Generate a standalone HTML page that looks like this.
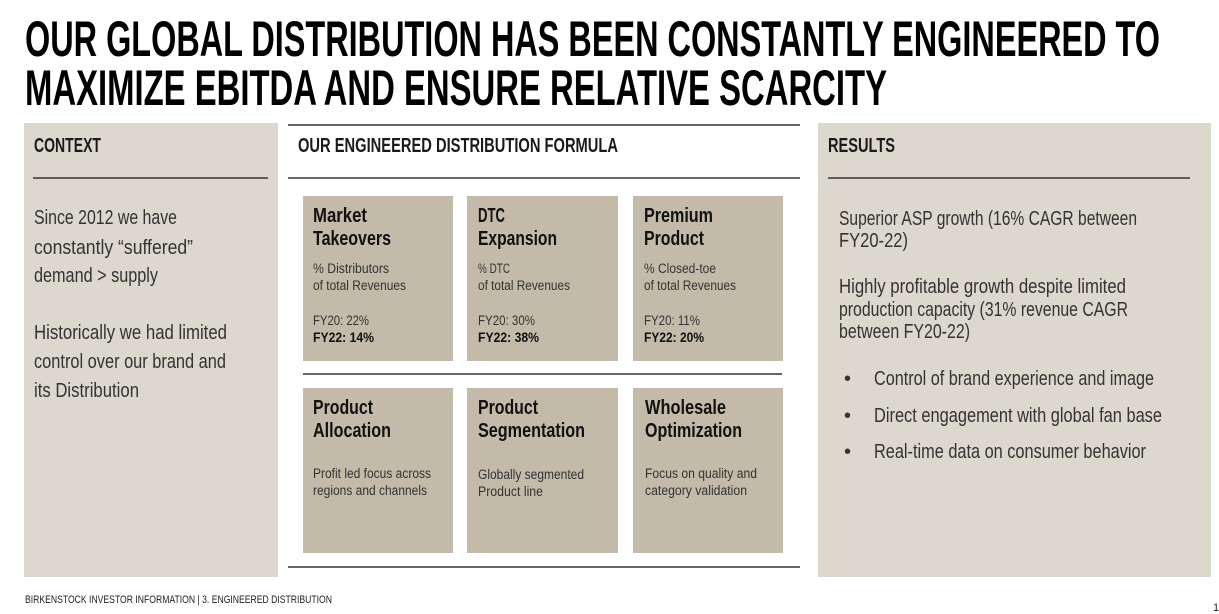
<!DOCTYPE html>
<html><head><meta charset="utf-8"><style>
html,body{margin:0;padding:0;background:#fff;width:1219px;height:614px;overflow:hidden}
svg text{font-family:"Liberation Sans Narrow","Liberation Sans",sans-serif}
</style></head><body>
<svg width="1219" height="614" viewBox="0 0 1219 614" xmlns="http://www.w3.org/2000/svg">
<rect width="1219" height="614" fill="#fff"/>
<g font-weight="bold" font-size="50" fill="#000">
<text x="25" y="56" textLength="1135" lengthAdjust="spacingAndGlyphs">OUR GLOBAL DISTRIBUTION HAS BEEN CONSTANTLY ENGINEERED TO</text>
<text x="25" y="105" textLength="862" lengthAdjust="spacingAndGlyphs">MAXIMIZE EBITDA AND ENSURE RELATIVE SCARCITY</text>
</g>
<rect x="24" y="123" width="254" height="454" fill="#dcd8ce"/>
<rect x="818" y="123" width="393" height="454" fill="#dcd8ce"/>
<g font-weight="bold" font-size="20" fill="#1a1a1a">
<text x="34" y="152" textLength="67" lengthAdjust="spacingAndGlyphs">CONTEXT</text>
<text x="298" y="152" textLength="320" lengthAdjust="spacingAndGlyphs">OUR ENGINEERED DISTRIBUTION FORMULA</text>
<text x="828" y="152" textLength="67" lengthAdjust="spacingAndGlyphs">RESULTS</text>
</g>
<g stroke="#333" stroke-width="1.5">
<line x1="33" y1="178" x2="268" y2="178"/>
<line x1="288" y1="125" x2="800" y2="125"/>
<line x1="288" y1="178" x2="800" y2="178"/>
<line x1="303" y1="374" x2="782" y2="374"/>
<line x1="288" y1="567" x2="800" y2="567"/>
<line x1="828" y1="178" x2="1190" y2="178"/>
</g>
<g font-size="20" fill="#333">
<text x="34" y="224" textLength="143" lengthAdjust="spacingAndGlyphs">Since 2012 we have</text>
<text x="34" y="254" textLength="159" lengthAdjust="spacingAndGlyphs">constantly “suffered”</text>
<text x="34" y="282" textLength="124" lengthAdjust="spacingAndGlyphs">demand &gt; supply</text>
<text x="34" y="339" textLength="193" lengthAdjust="spacingAndGlyphs">Historically we had limited</text>
<text x="34" y="368" textLength="192" lengthAdjust="spacingAndGlyphs">control over our brand and</text>
<text x="34" y="397" textLength="105" lengthAdjust="spacingAndGlyphs">its Distribution</text>
</g>
<g font-size="20" fill="#333">
<text x="839" y="225" textLength="298" lengthAdjust="spacingAndGlyphs">Superior ASP growth (16% CAGR between</text>
<text x="839" y="247" textLength="69" lengthAdjust="spacingAndGlyphs">FY20-22)</text>
<text x="839" y="293" textLength="287" lengthAdjust="spacingAndGlyphs">Highly profitable growth despite limited</text>
<text x="839" y="316" textLength="289" lengthAdjust="spacingAndGlyphs">production capacity (31% revenue CAGR</text>
<text x="839" y="338" textLength="131" lengthAdjust="spacingAndGlyphs">between FY20-22)</text>
<text x="844" y="385">•</text><text x="874" y="385" textLength="280" lengthAdjust="spacingAndGlyphs">Control of brand experience and image</text>
<text x="844" y="422">•</text><text x="874" y="422" textLength="288" lengthAdjust="spacingAndGlyphs">Direct engagement with global fan base</text>
<text x="844" y="458">•</text><text x="874" y="458" textLength="272" lengthAdjust="spacingAndGlyphs">Real-time data on consumer behavior</text>
</g>
<g fill="#c3baa9">
<rect x="303" y="196" width="150" height="165"/>
<rect x="467" y="196" width="151" height="165"/>
<rect x="633" y="196" width="150" height="165"/>
<rect x="303" y="388" width="150" height="165"/>
<rect x="467" y="388" width="151" height="165"/>
<rect x="633" y="388" width="150" height="165"/>
</g>
<g font-weight="bold" font-size="20" fill="#111" lengthAdjust="spacingAndGlyphs">
<text x="313" y="222" textLength="54" lengthAdjust="spacingAndGlyphs">Market</text><text x="313" y="245" textLength="78" lengthAdjust="spacingAndGlyphs">Takeovers</text>
<text x="478" y="222" textLength="27" lengthAdjust="spacingAndGlyphs">DTC</text><text x="478" y="245" textLength="79" lengthAdjust="spacingAndGlyphs">Expansion</text>
<text x="644" y="222" textLength="69" lengthAdjust="spacingAndGlyphs">Premium</text><text x="644" y="245" textLength="60" lengthAdjust="spacingAndGlyphs">Product</text>
<text x="313" y="414" textLength="60" lengthAdjust="spacingAndGlyphs">Product</text><text x="313" y="437" textLength="78" lengthAdjust="spacingAndGlyphs">Allocation</text>
<text x="478" y="414" textLength="60" lengthAdjust="spacingAndGlyphs">Product</text><text x="478" y="437" textLength="107" lengthAdjust="spacingAndGlyphs">Segmentation</text>
<text x="645" y="414" textLength="81" lengthAdjust="spacingAndGlyphs">Wholesale</text><text x="645" y="437" textLength="97" lengthAdjust="spacingAndGlyphs">Optimization</text>
</g>
<g font-size="13.5" fill="#333">
<text x="313" y="273" textLength="76" lengthAdjust="spacingAndGlyphs">% Distributors</text><text x="313" y="290" textLength="93" lengthAdjust="spacingAndGlyphs">of total Revenues</text>
<text x="313" y="325" textLength="56" lengthAdjust="spacingAndGlyphs">FY20: 22%</text><text x="313" y="342" font-weight="bold" fill="#111" textLength="61" lengthAdjust="spacingAndGlyphs">FY22: 14%</text>
<text x="478" y="273" textLength="32" lengthAdjust="spacingAndGlyphs">% DTC</text><text x="478" y="290" textLength="92" lengthAdjust="spacingAndGlyphs">of total Revenues</text>
<text x="478" y="325" textLength="57" lengthAdjust="spacingAndGlyphs">FY20: 30%</text><text x="478" y="342" font-weight="bold" fill="#111" textLength="61" lengthAdjust="spacingAndGlyphs">FY22: 38%</text>
<text x="644" y="273" textLength="72" lengthAdjust="spacingAndGlyphs">% Closed-toe</text><text x="644" y="290" textLength="92" lengthAdjust="spacingAndGlyphs">of total Revenues</text>
<text x="644" y="325" textLength="56" lengthAdjust="spacingAndGlyphs">FY20: 11%</text><text x="644" y="342" font-weight="bold" fill="#111" textLength="60" lengthAdjust="spacingAndGlyphs">FY22: 20%</text>
<text x="313" y="478" textLength="118" lengthAdjust="spacingAndGlyphs">Profit led focus across</text><text x="313" y="495" textLength="114" lengthAdjust="spacingAndGlyphs">regions and channels</text>
<text x="478" y="479" textLength="106" lengthAdjust="spacingAndGlyphs">Globally segmented</text><text x="478" y="496" textLength="65" lengthAdjust="spacingAndGlyphs">Product line</text>
<text x="645" y="478" textLength="112" lengthAdjust="spacingAndGlyphs">Focus on quality and</text><text x="645" y="495" textLength="102" lengthAdjust="spacingAndGlyphs">category validation</text>
</g>
<text x="25" y="603" font-size="11" fill="#222" textLength="307" lengthAdjust="spacingAndGlyphs">BIRKENSTOCK INVESTOR INFORMATION | 3. ENGINEERED DISTRIBUTION</text>
<text x="1213" y="611" font-size="11" fill="#222">1</text>
</svg>
</body></html>
